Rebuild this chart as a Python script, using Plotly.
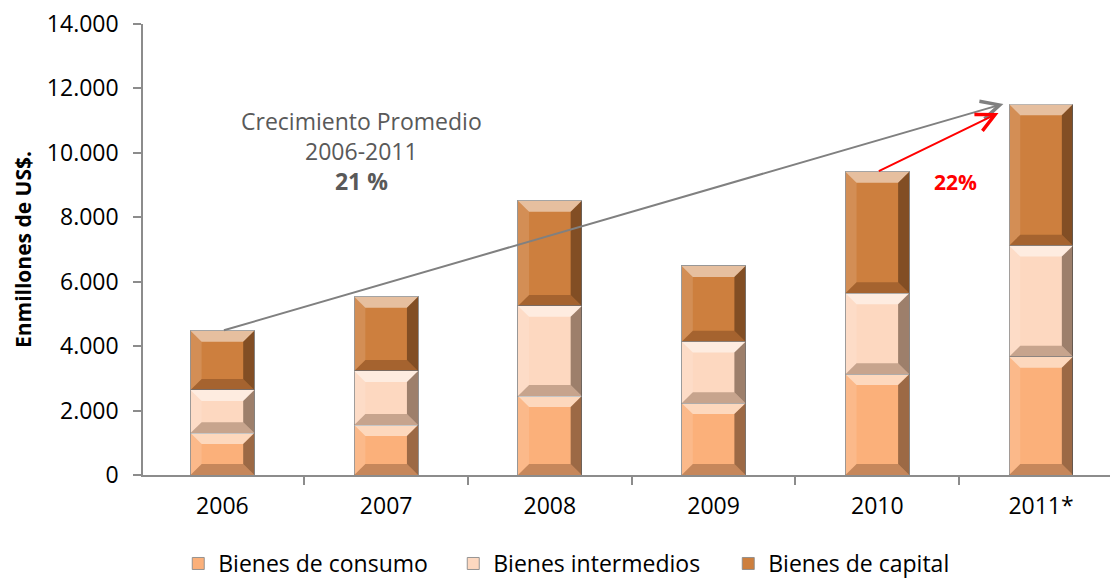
import plotly.graph_objects as go

# Data (millones de US$)
years = ['2006', '2007', '2008', '2009', '2010', '2011*']
consumo = [1300, 1550, 2450, 2230, 3130, 3670]
intermedios = [1340, 1680, 2800, 1910, 2510, 3450]
capital = [1840, 2300, 3260, 2350, 3770, 4390]

series = [
    ('Bienes de consumo', consumo, '#FBB07A'),
    ('Bienes intermedios', intermedios, '#FDD8C0'),
    ('Bienes de capital', capital, '#CD7F3E'),
]

FONT = 'Open Sans'
BAR_W = 0.39

fig = go.Figure()
for name, vals, color in series:
    fig.add_trace(go.Bar(
        x=list(range(len(years))), y=vals, name=name, width=BAR_W,
        marker=dict(color=color, line=dict(color='rgba(140,140,140,0.9)', width=1)),
    ))

# Bevel effect on each stacked segment (in data coordinates)
shapes = []
bx = 0.068   # horizontal bevel, x units
by = 340     # vertical bevel, y units
base = [0] * len(years)
for name, vals, color in series:
    for i, v in enumerate(vals):
        x0, x1 = i - BAR_W / 2, i + BAR_W / 2
        y0, y1 = base[i], base[i] + v
        d = min(by, v / 3)
        faces = [
            (f'M{x0},{y1} L{x1},{y1} L{x1-bx},{y1-d} L{x0+bx},{y1-d} Z', 'rgba(255,255,255,0.5)'),
            (f'M{x0},{y0} L{x1},{y0} L{x1-bx},{y0+d} L{x0+bx},{y0+d} Z', 'rgba(60,30,10,0.28)'),
            (f'M{x1},{y0} L{x1},{y1} L{x1-bx},{y1-d} L{x1-bx},{y0+d} Z', 'rgba(40,20,5,0.45)'),
            (f'M{x0},{y0} L{x0},{y1} L{x0+bx},{y1-d} L{x0+bx},{y0+d} Z', 'rgba(255,255,255,0.12)'),
        ]
        for path, fc in faces:
            shapes.append(dict(type='path', path=path, xref='x', yref='y',
                               fillcolor=fc, line=dict(width=0), layer='above'))
        base[i] += v

totals = base

annotations = [
    # Average growth arrow 2006 -> 2011
    dict(x=4.77, y=11520, ax=0, ay=totals[0], xref='x', yref='y', axref='x', ayref='y',
         showarrow=True, arrowhead=5, arrowsize=1.8, arrowwidth=2, arrowcolor='#808080', text=''),
    # 2010 -> 2011 arrow
    dict(x=4.74, y=11240, ax=4, ay=totals[4], xref='x', yref='y', axref='x', ayref='y',
         showarrow=True, arrowhead=5, arrowsize=1.8, arrowwidth=2, arrowcolor='#FF0000', text=''),
    dict(x=0.85, y=10060, xref='x', yref='y', showarrow=False,
         text='Crecimiento Promedio<br>2006-2011<br><b>21 %</b>',
         font=dict(family=FONT, size=23, color='#595959'), align='center'),
    dict(x=4.48, y=9080, xref='x', yref='y', showarrow=False, text='<b>22%</b>',
         font=dict(family=FONT, size=21, color='#FF0000')),
]

# the page body has an 8px margin, so the figure is drawn 8px smaller
fig.update_layout(
    barmode='stack',
    width=1110, height=573,
    margin=dict(l=135, r=0, t=16, b=106),
    paper_bgcolor='white', plot_bgcolor='white',
    font=dict(family=FONT, size=23, color='#000000'),
    shapes=shapes,
    annotations=annotations,
    legend=dict(orientation='h', xref='container', yref='container',
                x=0.525, xanchor='center', y=0.068, yanchor='top',
                font=dict(size=23), traceorder='normal', itemwidth=30,
                entrywidth=230),
    showlegend=True,
)

fig.update_xaxes(
    range=[-0.485, 5.47], tickvals=list(range(len(years))), ticktext=years,
    showline=True, linecolor='#8C8C8C', linewidth=1.5,
    ticks='', showgrid=False, zeroline=False, automargin=False,
    minor=dict(tickvals=[i + 0.5 for i in range(-1, len(years))], ticks='outside',
               ticklen=8, tickcolor='#8C8C8C', tickwidth=1.5, showgrid=False),
    tickfont=dict(size=23), ticklabelstandoff=10,
)
fig.update_yaxes(
    range=[0, 14000], tickvals=list(range(0, 14001, 2000)),
    ticktext=['0', '2.000', '4.000', '6.000', '8.000', '10.000', '12.000', '14.000'],
    showline=True, linecolor='#8C8C8C', linewidth=1.5,
    ticks='outside', ticklen=8, tickcolor='#8C8C8C', tickwidth=1.5,
    showgrid=False, zeroline=False, automargin=False, ticklabeloverflow='allow',
    tickfont=dict(size=23), ticklabelstandoff=10,
    title=dict(text='<b>Enmillones de US$.</b>', font=dict(size=21), standoff=10),
)

fig.write_html('out.html')
